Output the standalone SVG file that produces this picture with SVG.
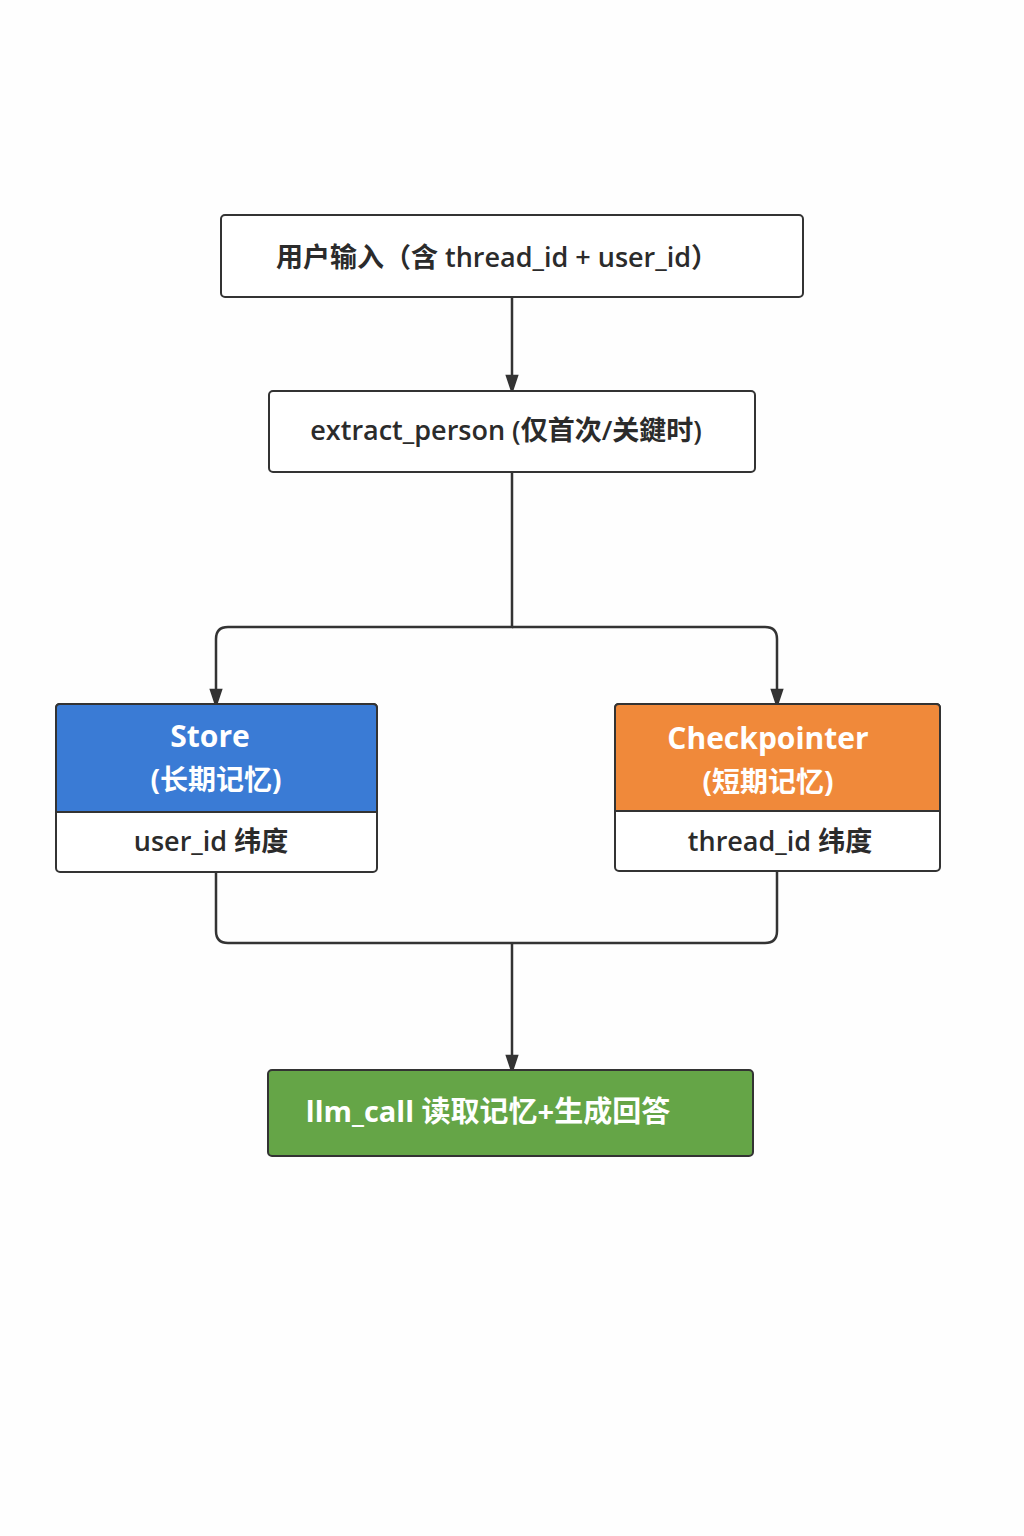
<svg xmlns="http://www.w3.org/2000/svg" width="1024" height="1536" viewBox="0 0 1024 1536">
<style>
text{font-family:"Open Sans","Noto Sans CJK SC",sans-serif;text-anchor:middle}
.box{fill:#fff;stroke:#333;stroke-width:2}
.dk{fill:#2b2b2b;font-size:27px;font-weight:600}
.wh{fill:#fff;font-weight:700}
.ln{fill:none;stroke:#333;stroke-width:2.5}
</style>
<defs><marker id="a" viewBox="0 0 10 10" refX="10" refY="5" markerWidth="8" markerHeight="12" markerUnits="userSpaceOnUse" orient="auto"><path d="M0,0L10,5L0,10z" fill="#333"/></marker>
<marker id="ar" viewBox="0 0 20 30" refX="20" refY="10" markerWidth="30" markerHeight="20" markerUnits="userSpaceOnUse" orient="auto"><path d="M0,0L30,10L0,20z" fill="#333"/></marker></defs>
<rect width="1024" height="1536" fill="#fefefe"/>
<g id="connectors">
<path class="ln" d="M512,297V388" marker-end="url(#ar)"/>
<path class="ln" d="M512,472V627H228Q216,627 216,639V702" marker-end="url(#ar)"/>
<path class="ln" d="M512,627H765Q777,627 777,639V702" marker-end="url(#ar)"/>
<path class="ln" d="M216,872V931Q216,943 228,943H765Q777,943 777,931V871"/>
<path class="ln" d="M512,943V1068" marker-end="url(#ar)"/>
</g>
<g id="input"><rect class="box" x="221" y="215" width="582" height="82" rx="4"/><text class="dk" x="497" y="267">用户输入（含 thread_id + user_id）</text></g>
<g id="extract"><rect class="box" x="269" y="391" width="486" height="81" rx="4"/><text class="dk" x="506" y="440">extract_person (仅首次/关鍵时)</text></g>
<g id="store"><rect class="box" x="56" y="704" width="321" height="168" rx="4"/><path d="M60,704H373Q377,704 377,708V812H56V708Q56,704 60,704z" fill="#3a7bd5" stroke="#333" stroke-width="2"/>
<text class="wh" x="210" y="747" font-size="30">Store</text><text class="wh" x="216" y="790" font-size="28">(长期记忆)</text><text class="dk" x="211" y="851">user_id 纬度</text></g>
<g id="checkpointer"><rect class="box" x="615" y="704" width="325" height="167" rx="4"/><path d="M619,704H936Q940,704 940,708V811H615V708Q615,704 619,704z" fill="#f0893a" stroke="#333" stroke-width="2"/>
<text class="wh" x="768" y="749" font-size="30">Checkpointer</text><text class="wh" x="768" y="792" font-size="28">(短期记忆)</text><text class="dk" x="780" y="851">thread_id 纬度</text></g>
<g id="llm"><rect x="268" y="1070" width="485" height="86" rx="4" fill="#65a547" stroke="#333" stroke-width="2"/><text class="wh" x="488" y="1122" font-size="29">llm_call  读取记忆+生成回答</text></g>
</svg>
